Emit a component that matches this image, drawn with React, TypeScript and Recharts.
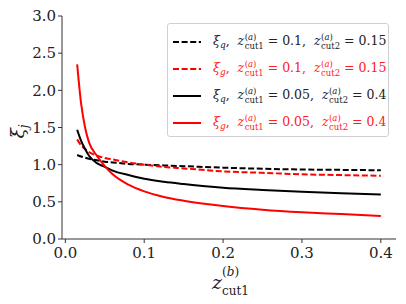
import React from 'react';
import { LineChart, Line, XAxis, YAxis, Legend } from 'recharts';

const zValues = [0.015, 0.02, 0.025, 0.03, 0.04, 0.05, 0.06, 0.08, 0.1, 0.125, 0.15, 0.2, 0.25, 0.3, 0.35, 0.4];
const xiQ_01_015 = [1.13, 1.11, 1.095, 1.08, 1.06, 1.04, 1.03, 1.01, 1.0, 0.99, 0.98, 0.96, 0.945, 0.935, 0.93, 0.925];
const xiG_01_015 = [1.34, 1.26, 1.21, 1.17, 1.12, 1.09, 1.07, 1.03, 1.0, 0.97, 0.95, 0.91, 0.89, 0.87, 0.86, 0.85];
const xiQ_005_04 = [1.47, 1.32, 1.21, 1.12, 1.02, 0.97, 0.92, 0.86, 0.81, 0.77, 0.74, 0.69, 0.66, 0.635, 0.615, 0.6];
const xiG_005_04 = [2.35, 1.82, 1.5, 1.3, 1.12, 0.98, 0.87, 0.73, 0.64, 0.565, 0.515, 0.445, 0.395, 0.36, 0.335, 0.31];

const xTicks = [0, 0.1, 0.2, 0.3, 0.4];
const yTicks = [0, 0.5, 1.0, 1.5, 2.0, 2.5, 3.0];

const seriesInfo = [
  { key: 'q1', lab: 'q', c1: '0.1', c2: '0.15', color: '#000000', dash: '6 2.6', text: '#222' },
  { key: 'g1', lab: 'g', c1: '0.1', c2: '0.15', color: '#ff0000', dash: '6 2.6', text: '#ff2020' },
  { key: 'q2', lab: 'q', c1: '0.05', c2: '0.4', color: '#000000', dash: undefined, text: '#222' },
  { key: 'g2', lab: 'g', c1: '0.05', c2: '0.4', color: '#ff0000', dash: undefined, text: '#ff2020' },
];

const data = zValues.map((z, i) => ({
  z,
  q1: xiQ_01_015[i],
  g1: xiG_01_015[i],
  q2: xiQ_005_04[i],
  g2: xiG_005_04[i],
}));

const FONT = '"DejaVu Serif", "Liberation Serif", "Noto Serif", serif';

const Stack = ({ sub }: { sub: string }) => (
  <span
    style={{
      display: 'inline-flex',
      flexDirection: 'column',
      verticalAlign: '5px',
      fontSize: 8.5,
      lineHeight: '9px',
      marginLeft: 0.5,
      fontStyle: 'normal',
    }}
  >
    <span>
      (<span style={{ fontStyle: 'italic' }}>a</span>)
    </span>
    <span>{sub}</span>
  </span>
);

const renderLegend = () => (
  <div
    style={{
      width: 222,
      height: 114,
      boxSizing: 'border-box',
      border: '1px solid #d0d0d0',
      borderRadius: 3,
      background: 'rgba(255,255,255,0.85)',
      padding: '4px 0 0 5px',
      fontFamily: FONT,
      fontSize: 12.5,
    }}
  >
    {seriesInfo.map((s) => (
      <div key={s.key} style={{ display: 'flex', alignItems: 'center', height: 27, color: s.text, whiteSpace: 'nowrap' }}>
        <svg width={28} height={4} style={{ marginRight: 12 }}>
          <line x1={0} y1={2} x2={28} y2={2} stroke={s.color} strokeWidth={2} strokeDasharray={s.dash} />
        </svg>
        <span>
          <i>ξ</i>
          <span style={{ fontSize: 9, fontStyle: 'italic', verticalAlign: '-3px' }}>{s.lab}</span>
          <span>,&nbsp;&nbsp;</span>
          <i>z</i>
          <Stack sub="cut1" />
          <span>&nbsp;= {s.c1},&nbsp;&nbsp;</span>
          <i>z</i>
          <Stack sub="cut2" />
          <span>&nbsp;= {s.c2}</span>
        </span>
      </div>
    ))}
  </div>
);

const XLabel = (props: any) => {
  const vb = props.viewBox || {};
  const cx = vb.x + vb.width / 2;
  const base = vb.y + 50;
  return (
    <g fontFamily={FONT} fill="#222">
      <text x={cx - 7} y={base} fontSize={19} fontStyle="italic" textAnchor="end">z</text>
      <text x={cx - 7} y={base - 13} fontSize={12} textAnchor="start">
        (<tspan fontStyle="italic">b</tspan>)
      </text>
      <text x={cx - 7} y={base + 6} fontSize={12} textAnchor="start">cut1</text>
    </g>
  );
};

const YLabel = (props: any) => {
  const vb = props.viewBox || {};
  const cy = vb.y + vb.height / 2;
  const x = 24;
  return (
    <g fontFamily={FONT} fill="#222" transform={`translate(${x},${cy}) rotate(-90)`}>
      <text x={-4} y={0} fontSize={19} fontStyle="italic" textAnchor="middle">
        ξ<tspan fontSize={12} dy={4}>j</tspan>
      </text>
    </g>
  );
};

const tickStyle = { fontFamily: FONT, fontSize: 15, fill: '#222' };

export default function App() {
  return (
    <div style={{ position: 'absolute', left: 0, top: 0 }}>
      <LineChart width={406} height={304} data={data} margin={{ top: 16, right: 10, bottom: 0, left: 0 }}>
        <XAxis
          dataKey="z"
          type="number"
          domain={[-0.00425, 0.41925]}
          allowDataOverflow
          ticks={xTicks}
          tickFormatter={(v: number) => v.toFixed(1)}
          tick={tickStyle}
          tickSize={4}
          tickMargin={4}
          height={65}
          stroke="#333"
          label={<XLabel />}
        />
        <XAxis
          xAxisId="top"
          orientation="top"
          type="number"
          dataKey="z"
          domain={[-0.00425, 0.41925]}
          allowDataOverflow
          height={0}
          tick={false}
          tickLine={false}
          stroke="#333"
        />
        <YAxis
          type="number"
          domain={[0, 3]}
          ticks={yTicks}
          tickFormatter={(v: number) => v.toFixed(1)}
          tick={tickStyle}
          tickSize={4}
          tickMargin={2}
          width={62}
          stroke="#333"
          label={<YLabel />}
        />
        <YAxis
          yAxisId="right"
          orientation="right"
          type="number"
          domain={[0, 3]}
          width={0}
          tick={false}
          tickLine={false}
          stroke="#333"
        />
        <Legend
          layout="vertical"
          align="center"
          verticalAlign="middle"
          content={renderLegend}
          wrapperStyle={{ left: 167, top: 23, width: 222, height: 114 }}
        />
        {seriesInfo.map((s) => (
          <Line
            key={s.key}
            dataKey={s.key}
            type="monotone"
            stroke={s.color}
            strokeWidth={2}
            strokeDasharray={s.dash}
            dot={false}
            isAnimationActive={false}
          />
        ))}
      </LineChart>
    </div>
  );
}
